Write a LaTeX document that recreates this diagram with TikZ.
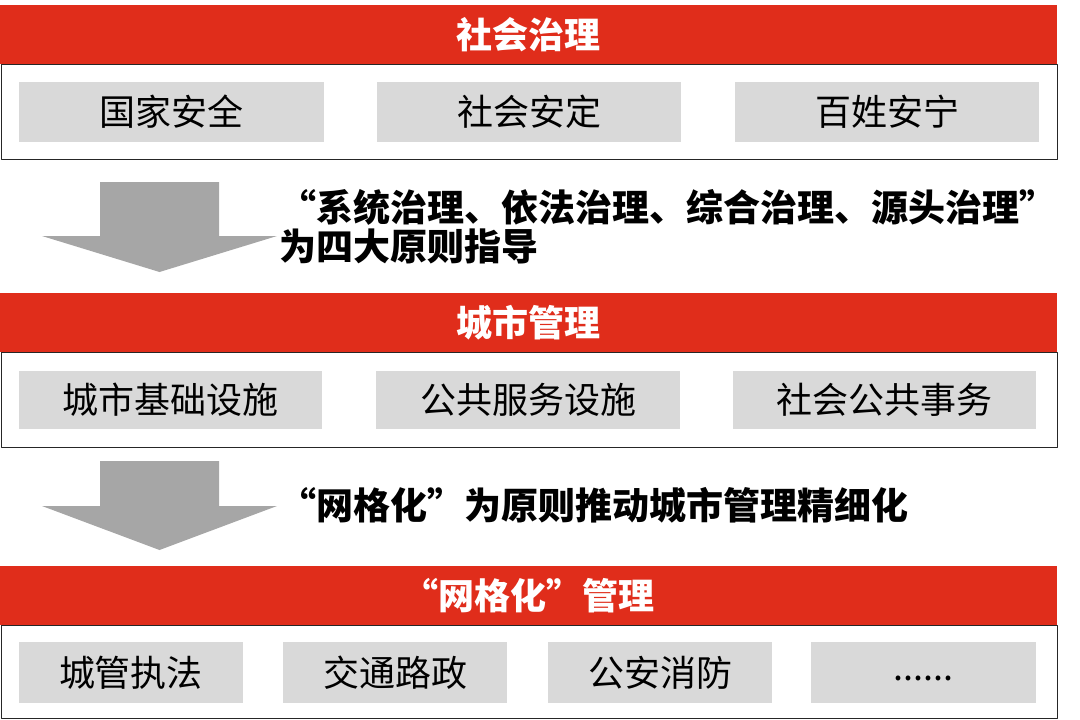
\documentclass[tikz,border=0pt]{standalone}
\usepackage{fontspec}
\setmainfont{Noto Sans CJK SC}
\definecolor{barred}{HTML}{E02D1B}
\definecolor{itemgray}{HTML}{D9D9D9}
\definecolor{arrowgray}{HTML}{A6A6A6}
\begin{document}
\begin{tikzpicture}[x=1pt, y=-1pt, line join=round,
	bar/.style={fill=barred, text=white, font=\fontsize{36}{40}\selectfont\bfseries\addfontfeature{RawFeature=+fwid}, minimum width=1057pt, minimum height=59pt, inner sep=0pt, anchor=north west},
	panel/.style={draw=black!85, line width=1.2pt, fill=white, minimum width=1056pt, inner sep=0pt, anchor=north west},
	item/.style={fill=itemgray, inner sep=0pt, font=\fontsize{36}{40}\selectfont},
	note/.style={anchor=west, align=left, inner sep=0pt, font=\fontsize{37}{39}\selectfont\bfseries\addfontfeature{RawFeature=+fwid}}]
	\useasboundingbox (0,0) rectangle (1080,720);
	% level 1
	\node[panel, minimum height=95pt] (panel1) at (0.6,64) {};
	\node[bar] (bar1) at (0,5) {社会治理};
	\node[item, minimum width=305pt, minimum height=60pt] (guojia) at (171.5,112) {国家安全};
	\node[item, minimum width=304pt, minimum height=60pt] (shehui) at (529,112) {社会安定};
	\node[item, minimum width=304pt, minimum height=60pt] (baixing) at (887,112) {百姓安宁};
	% arrow 1
	\fill[arrowgray] (100,182) -- (219,182) -- (219,236) -- (277,236) -- (159.5,272) -- (42,236) -- (100,236) -- cycle;
	\node[note] (yuanze) at (279,227) {“系统治理、依法治理、综合治理、源头治理”\\为四大原则指导};
	% level 2
	\node[panel, minimum height=95pt] (panel2) at (0.6,352) {};
	\node[bar] (bar2) at (0,293) {城市管理};
	\node[item, minimum width=303pt, minimum height=58pt] (jichu) at (170.5,400) {城市基础设施};
	\node[item, minimum width=304pt, minimum height=58pt] (fuwu) at (528,400) {公共服务设施};
	\node[item, minimum width=303pt, minimum height=58pt] (shiwu) at (884.5,400) {社会公共事务};
	% arrow 2
	\fill[arrowgray] (100,461) -- (219,461) -- (219,506) -- (277,506) -- (159.5,550) -- (42,506) -- (100,506) -- cycle;
	\node[note] (wangge) at (279,505) {“网格化”为原则推动城市管理精细化};
	% level 3
	\node[panel, minimum height=93pt] (panel3) at (0.6,625) {};
	\node[bar] (bar3) at (0,566) {“网格化”管理};
	\node[item, minimum width=224pt, minimum height=61pt] (zhifa) at (131,672.5) {城管执法};
	\node[item, minimum width=224pt, minimum height=61pt] (luzheng) at (395,672.5) {交通路政};
	\node[item, minimum width=224pt, minimum height=61pt] (xiaofang) at (660,672.5) {公安消防};
	\node[item, minimum width=225pt, minimum height=61pt] (more) at (923.5,672.5) {\strut......};
\end{tikzpicture}
\end{document}
